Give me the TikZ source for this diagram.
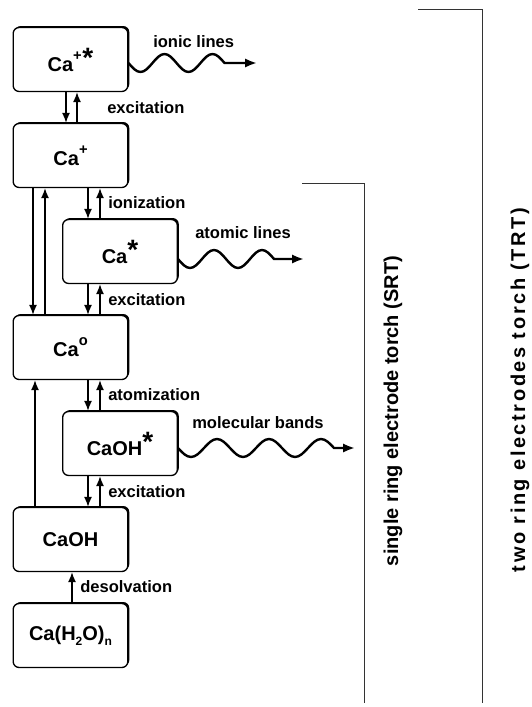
\documentclass[tikz,border=0pt]{standalone}
\usepackage{fontspec}
\setmainfont{Liberation Sans}
\usetikzlibrary{arrows.meta,shadows}

\def\unit{0.75pt}
\newcommand\expo[1]{\raisebox{0.55em}{\fontsize{11}{11}\selectfont #1}}
\newcommand\etoile{\raisebox{0.2em}{\fontsize{21}{21}\selectfont *}}
\newcommand\ind[1]{\raisebox{-0.25em}{\fontsize{9}{9}\selectfont #1}}

\begin{document}
\begin{tikzpicture}[x=\unit,y=-\unit]
\tikzstyle{etat}=[draw,line width=1pt,rounded corners=4.5pt,fill=white,minimum width=86pt,minimum height=48pt,font=\bfseries\fontsize{15}{18}\selectfont,general shadow={shadow xshift=1.1pt,shadow yshift=1.1pt,fill=black}]
\tikzstyle{legende}=[anchor=west,inner sep=0pt,font=\bfseries\fontsize{12.4}{15}\selectfont]
\tikzstyle{fleche}=[line width=1pt,-{Latex[length=7.5pt,width=6pt]}]
\tikzstyle{onde}=[line width=1.8pt,-{Latex[length=9pt,width=7pt]}]
\tikzstyle{accolade}=[line width=0.7pt,black!80]
\tikzstyle{torche}=[rotate=90,inner sep=0pt,font=\bfseries\fontsize{15}{18}\selectfont]

\useasboundingbox (0,0) rectangle (532,707);

\def\xg{70.5}
\def\xd{120}
\def\y{96}

\node[etat] (caionex) at (\xg,59.5) {Ca\expo{+}\kern0.5pt\etoile};
\node[etat] (caion) at (\xg,59.5+\y) {Ca\expo{+}};
\node[etat] (caex) at (\xd,59.5+2*\y) {Ca\etoile};
\node[etat] (ca) at (\xg,59.5+3*\y) {Ca\expo{o}};
\node[etat] (caohex) at (\xd,59.5+4*\y) {CaOH\etoile};
\node[etat] (caoh) at (\xg,59.5+5*\y) {CaOH};
\node[etat] (cah2o) at (\xg,59.5+6*\y) {Ca(H\ind{2}O)\ind{n}};

\draw[fleche] (caionex.south -| 66,0) -- (caion.north -| 66,0);
\draw[fleche] (caion.north -| 77,0) -- (caionex.south -| 77,0);
\node[legende] (exc1) at (107,108) {excitation};

\draw[fleche] (caion.south -| 88,0) -- (caex.north -| 88,0);
\draw[fleche] (caex.north -| 100,0) -- (caion.south -| 100,0);
\node[legende] (ioni) at (108,203) {ionization};

\draw[fleche] (caion.south -| 33,0) -- (ca.north -| 33,0);
\draw[fleche] (ca.north -| 45,0) -- (caion.south -| 45,0);

\draw[fleche] (caex.south -| 88,0) -- (ca.north -| 88,0);
\draw[fleche] (ca.north -| 100,0) -- (caex.south -| 100,0);
\node[legende] (exc2) at (108,300) {excitation};

\draw[fleche] (ca.south -| 88,0) -- (caohex.north -| 88,0);
\draw[fleche] (caohex.north -| 100,0) -- (ca.south -| 100,0);
\node[legende] (atom) at (108,395) {atomization};

\draw[fleche] (caohex.south -| 88,0) -- (caoh.north -| 88,0);
\draw[fleche] (caoh.north -| 100,0) -- (caohex.south -| 100,0);
\node[legende] (exc3) at (108,492) {excitation};

\draw[fleche] (caoh.north -| 35,0) -- (ca.south -| 35,0);

\draw[fleche] (cah2o.north) ++(1.5,0) -- (caoh.south -| 72,0);
\node[legende] (desol) at (80,587) {desolvation};

% emissions
\def\ampl{9}
\def\quart{12}
\def\periode{sin ++(\quart,\ampl) cos ++(\quart,-\ampl) sin ++(\quart,-\ampl) cos ++(\quart,\ampl)}

\draw[onde] (caionex.east |- 0,63) \periode \periode -- (257,63);
\node[legende] (ionic) at (153,42) {ionic lines};

\draw[onde] (caex.east |- 0,259) \periode \periode -- (304,259);
\node[legende] (atomic) at (195,233) {atomic lines};

\def\quart{13}
\draw[onde] (caohex.east |- 0,448) \periode \periode \periode -- (355,448);
\node[legende] (molec) at (192,423) {molecular bands};

% torches
\draw[accolade] (302,183) -- (364,183) -- (364,703);
\node[torche] (srt) at (393,411) {single ring electrode torch (SRT)};

\draw[accolade] (418,9) -- (482,9) -- (482,703);
\node[torche] (trt) at (520,390) {\addfontfeature{LetterSpace=13}two ring electrodes torch (TRT)};

\end{tikzpicture}
\end{document}
